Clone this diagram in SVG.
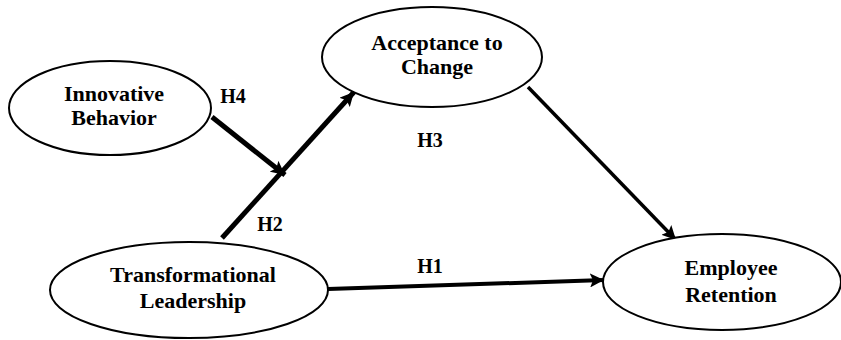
<svg xmlns="http://www.w3.org/2000/svg" width="841" height="340" viewBox="0 0 841 340">
<style>
.node ellipse{fill:#fff;stroke:#000;stroke-width:2}
.t{font-family:"Liberation Serif","Times New Roman",serif;font-weight:bold;font-size:22px;fill:#000;text-anchor:middle}
.lbl{font-family:"Liberation Serif","Times New Roman",serif;font-weight:bold;font-size:20px;fill:#000;text-anchor:middle}
.c{stroke:#000;fill:none}
</style>
<defs>
<marker id="ah" markerUnits="userSpaceOnUse" markerWidth="16" markerHeight="14" refX="14" refY="7" orient="auto">
<path d="M0,0 L14,7 L0,14 L3,7 Z" fill="#000"/>
</marker>
</defs>
<rect width="841" height="340" fill="#fff"/>
<g id="connectors">
<line class="c" x1="222" y1="238" x2="354" y2="92" stroke-width="5" marker-end="url(#ah)"/>
<line class="c" x1="212" y1="117" x2="285" y2="175" stroke-width="5" marker-end="url(#ah)"/>
<line class="c" x1="528" y1="87" x2="676" y2="240" stroke-width="3.5" marker-end="url(#ah)"/>
<line class="c" x1="328" y1="289" x2="604" y2="280" stroke-width="4" marker-end="url(#ah)"/>
<text class="lbl" x="233" y="103">H4</text>
<text class="lbl" x="430" y="147">H3</text>
<text class="lbl" x="270" y="231">H2</text>
<text class="lbl" x="430" y="273">H1</text>
</g>
<g id="innovative" class="node">
<ellipse cx="110" cy="108" rx="101" ry="47"/>
<text class="t" x="114" y="101">Innovative</text>
<text class="t" x="114" y="125">Behavior</text>
</g>
<g id="acceptance" class="node">
<ellipse cx="432" cy="57" rx="110" ry="50"/>
<text class="t" x="437" y="50">Acceptance to</text>
<text class="t" x="437" y="74">Change</text>
</g>
<g id="transformational" class="node">
<ellipse cx="189" cy="290" rx="139" ry="48"/>
<text class="t" x="193" y="282">Transformational</text>
<text class="t" x="193" y="308">Leadership</text>
</g>
<g id="employee" class="node">
<ellipse cx="722" cy="282" rx="119" ry="48"/>
<text class="t" x="731" y="275">Employee</text>
<text class="t" x="731" y="302">Retention</text>
</g>
</svg>
